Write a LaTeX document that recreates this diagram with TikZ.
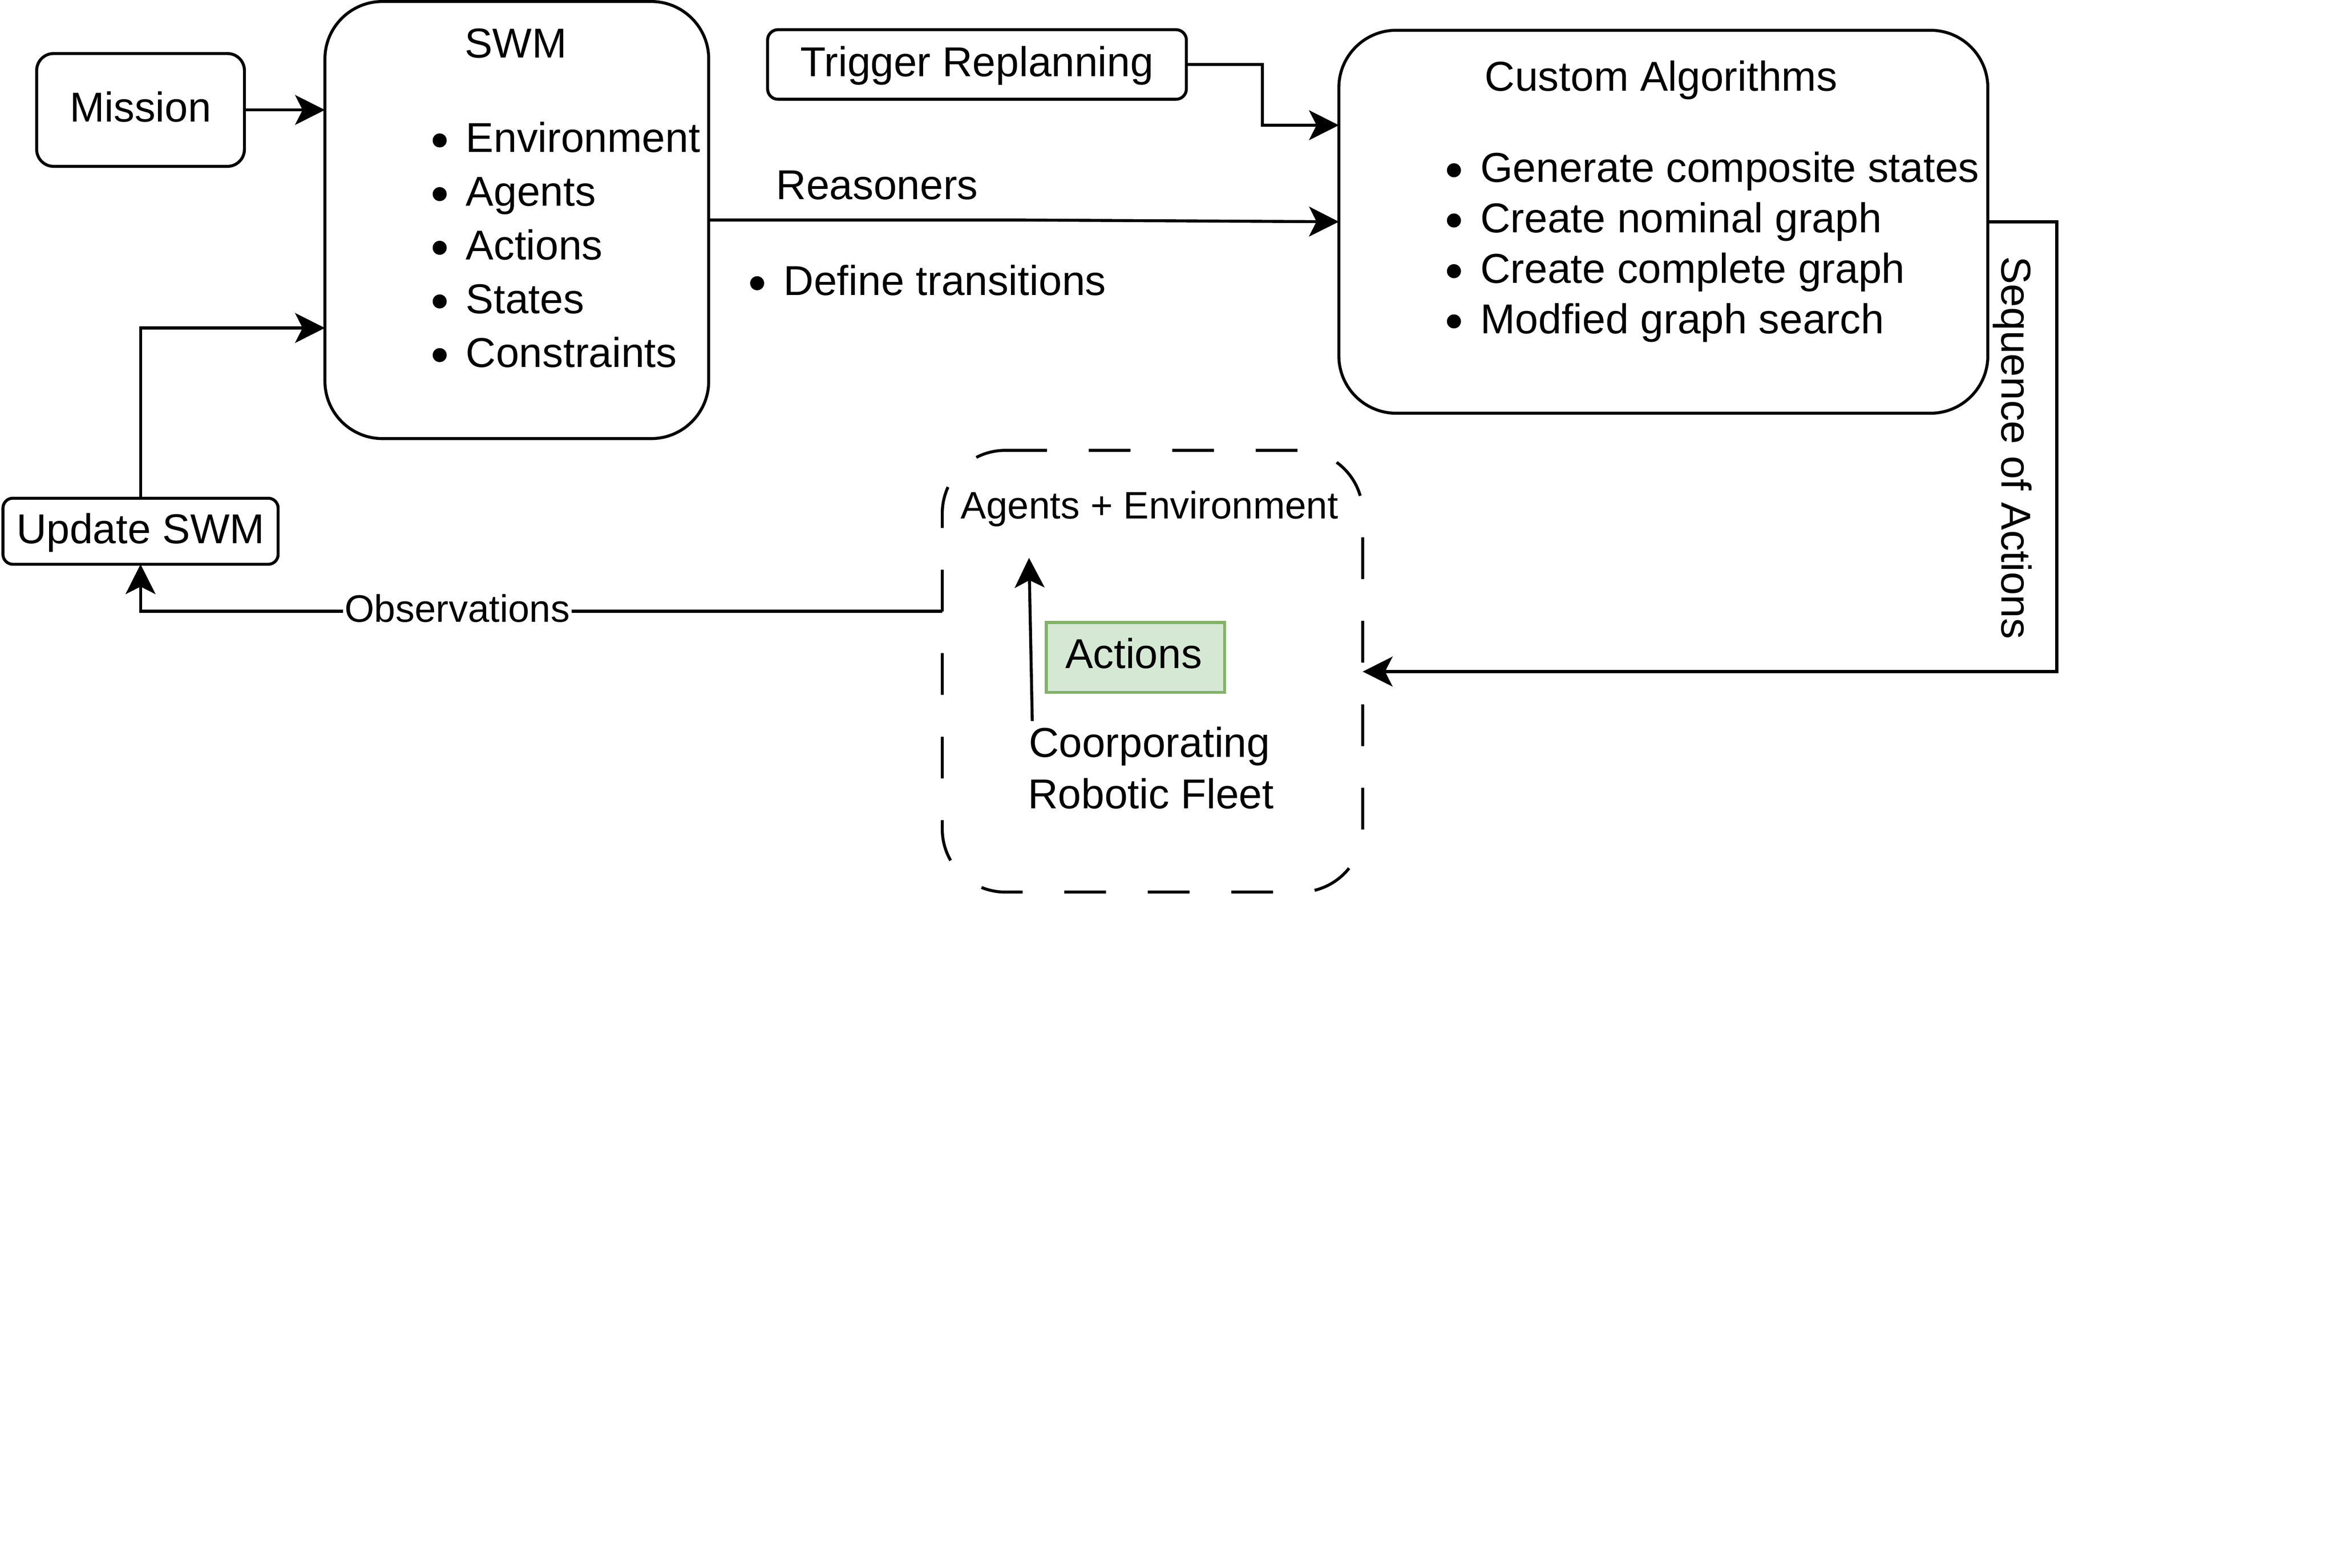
\documentclass[tikz,border=0pt]{standalone}
\usepackage{fontspec}
\setmainfont{Liberation Sans}
\usetikzlibrary{arrows.meta,calc}
\definecolor{gfill}{HTML}{D5E8D4}
\definecolor{gline}{HTML}{82B366}
\begin{document}
\begin{tikzpicture}[x=1pt,y=-1pt,
  every node/.style={inner sep=0pt, outer sep=0pt},
  blk/.style={draw, line width=2pt, anchor=north west, rectangle, fill=white},
  txt/.style={font=\fontsize{28}{33.6}\selectfont, anchor=base},
  txtl/.style={font=\fontsize{28}{33.6}\selectfont, anchor=base west},
  smalltxt/.style={font=\fontsize{25.67}{30}\selectfont, anchor=base},
  dot/.style={circle, fill=black, minimum size=9.4pt},
  conn/.style={line width=2pt, -{Stealth[length=20pt, width=20pt, inset=5pt]}},
  dashbox/.style={line width=2pt, dash pattern=on 28pt off 28pt, rounded corners=42.3pt},
]
\fill[white] (0,0) rectangle (1568,1051.6);
\useasboundingbox (0,0) rectangle (1568,1051.6);

% ---------- boxes ----------
\node[blk, rounded corners=11.4pt, minimum width=139.4pt, minimum height=75.7pt] (mission) at (24.6,35.9) {};
\node[blk, rounded corners=38.6pt, minimum width=257.5pt, minimum height=293.2pt] (swm) at (218,1.0) {};
\node[blk, rounded corners=7pt, minimum width=281pt, minimum height=46.7pt] (trig) at (515,19.9) {};
\node[blk, rounded corners=38.5pt, minimum width=435.4pt, minimum height=256.9pt] (cust) at (898.3,20.3) {};
\node[blk, rounded corners=6.6pt, minimum width=184.6pt, minimum height=44.3pt] (upd) at (2,334.2) {};
\node[anchor=north west, minimum width=282.1pt, minimum height=296.3pt] (env) at (632.2,302.1) {};
\draw[dashbox] ([xshift=42.3pt]env.north west) -- (env.north east) -- (env.south east)
  -- (env.south west) -- (env.north west) -- ([xshift=42.3pt]env.north west);
\node[draw=gline, fill=gfill, line width=2pt, anchor=north west, minimum width=119.6pt, minimum height=47pt] (act) at (702,417.5) {};

% ---------- texts ----------
\node[txt] (missionT) at (94.3,81.8) {Mission};
\node[txt] (swmT) at (346,38.6) {SWM};
\foreach \t [count=\i from 0] in {Environment,Agents,Actions,States,Constraints}{
  \node[dot] (swmB\i) at (295,{102.2+36*\i-8}) {};
  \node[txtl] (swmL\i) at (312.6,{102.2+36*\i}) {\t};
}
\node[txt] (trigT) at (655.5,51.3) {Trigger Replanning};
\node[txt] (custT) at (1114.5,61.1) {Custom Algorithms};
\foreach \t/\yy [count=\i from 0] in {Generate composite states/122.2,Create nominal graph/155.9,Create complete graph/189.9,Modfied graph search/223.6}{
  \node[dot] (custB\i) at (975.5,{\yy-8}) {};
  \node[txtl] (custL\i) at (993.3,\yy) {\t};
}
\node[txt] (updT) at (94.3,364.6) {Update SWM};
\node[smalltxt] (envT) at (771.3,348) {Agents + Environment};
\node[txt] (actT) at (760.6,448.2) {Actions};
\node[txt] (fleet1) at (771.2,508) {Coorporating};
\node[txt] (fleet2) at (772.2,542.5) {Robotic Fleet};

% ---------- connectors ----------
\draw[conn] (mission.east) -- (mission.east -| swm.west);
\coordinate (swmIn2) at (218,220);
\draw[conn] (upd.north) |- (swmIn2);

\coordinate (custIn1) at (898.3,84);
\draw[conn] (trig.east) -- (847,43.25) |- (custIn1);

\draw[conn] (swm.east) -- (687,147.6) -- (cust.west);
\node[txtl] (reasT) at (520.8,133.8) {Reasoners};
\node[dot] (reasB) at (508,190) {};
\node[txtl] (reasL) at (525.8,198) {Define transitions};

\coordinate (envIn) at (914.3,450.5);
\draw[conn] (cust.east) -- (1380,148.75) |- (envIn);
\node[txt, rotate=-90] (seqT) at (1343,300.4) {Sequence of Actions};

\coordinate (obsStart) at (632.2,410);
\draw[conn] (obsStart) -| (upd.south);
\node[smalltxt, fill=white, inner xsep=1pt] (obsT) at (306.8,417.2) {Observations};

\coordinate (fleetTop) at (692.6,483.7);
\coordinate (envBottom) at (690.4,374.2);
\draw[conn] (fleetTop) -- (envBottom);
\end{tikzpicture}
\end{document}
